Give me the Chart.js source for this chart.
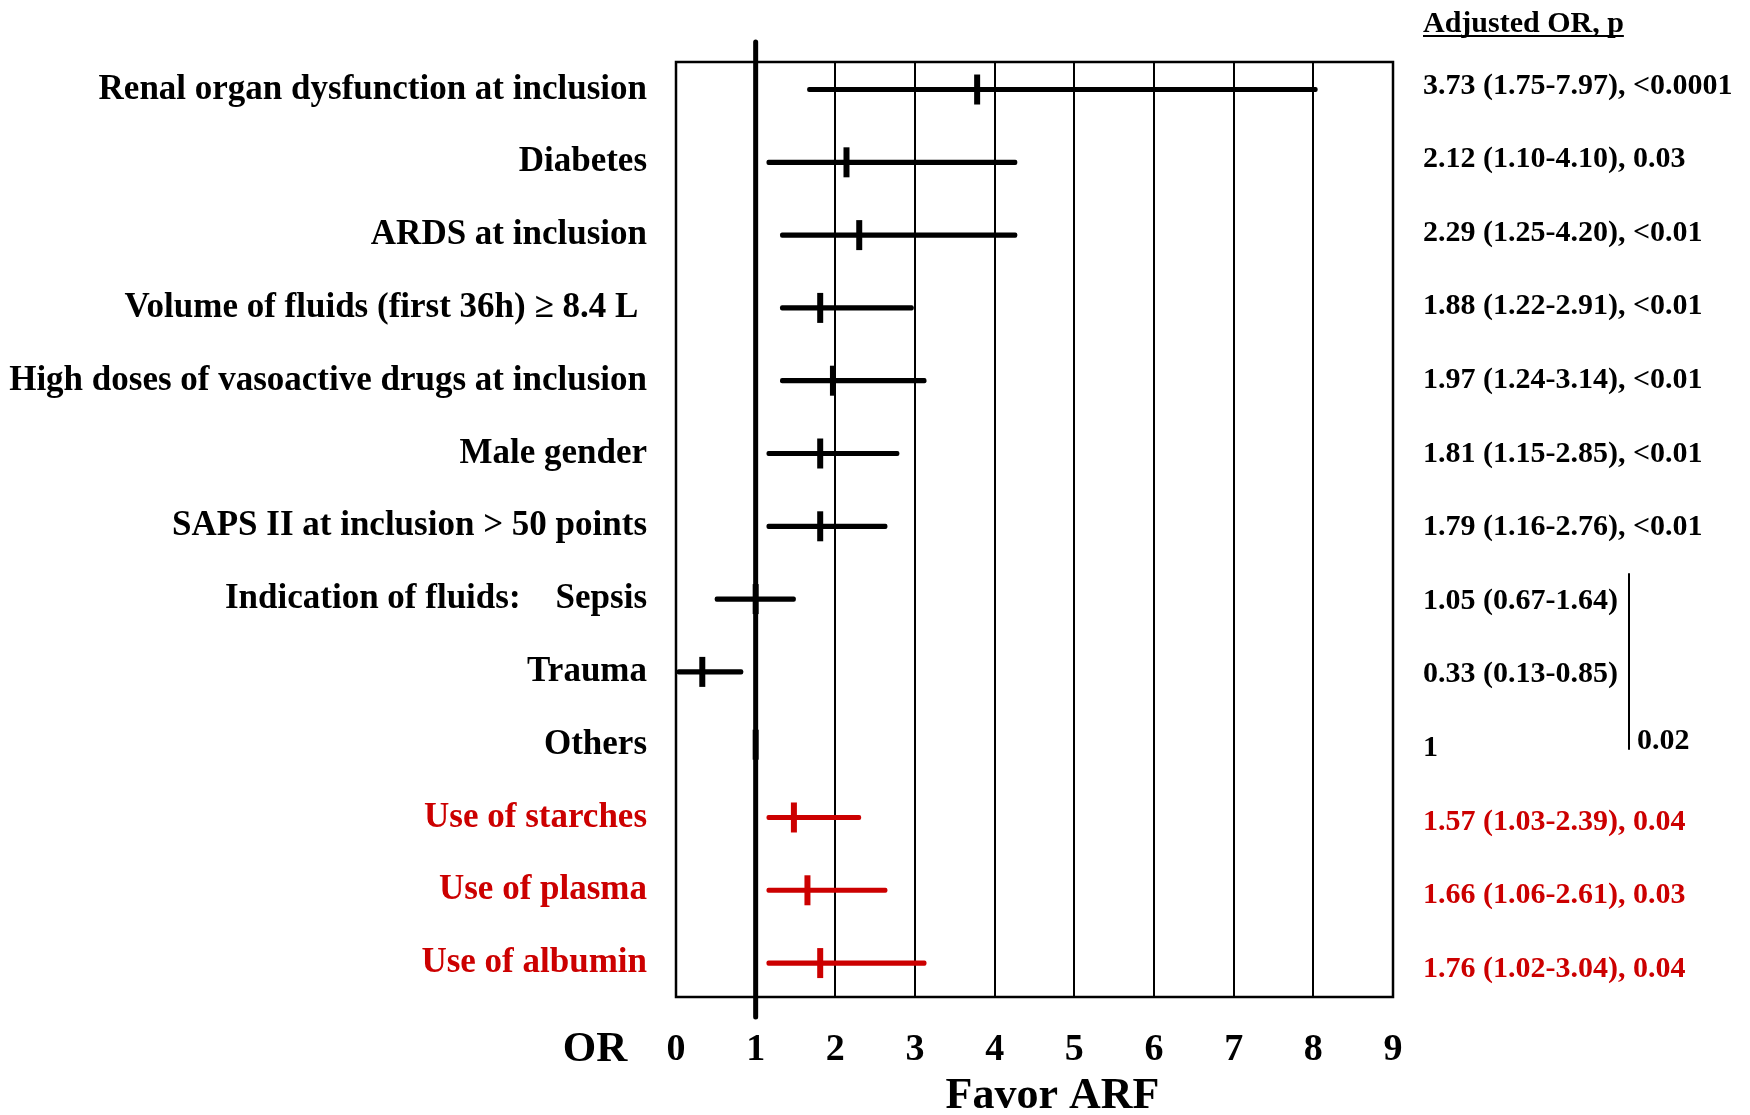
<!DOCTYPE html>
<html>
<head>
<meta charset="utf-8">
<script src="https://cdn.jsdelivr.net/npm/chart.js"></script>
<style>
    html, body { margin: 0; padding: 0; background: #fff; }
    #wrap { width: 1750px; height: 1115px; }
</style>
</head>
<body>
<div id="wrap"><canvas id="forest" width="1750" height="1115"></canvas></div>
<script>
// ===== DATA =====
const rowLabels = [
    'Renal organ dysfunction at inclusion',
    'Diabetes',
    'ARDS at inclusion',
    'Volume of fluids (first 36h) \u2265 8.4 L\u00a0',
    'High doses of vasoactive drugs at inclusion',
    'Male gender',
    'SAPS II at inclusion > 50 points',
    'Indication of fluids:\u00a0\u00a0\u00a0\u00a0Sepsis',
    'Trauma',
    'Others',
    'Use of starches',
    'Use of plasma',
    'Use of albumin'
];

// odds ratio and confidence bounds as drawn on the plot
const orValues = [3.78, 2.14, 2.30, 1.81, 1.97, 1.81, 1.81, 1.00, 0.33, 1.00, 1.48, 1.65, 1.81];
const ciLow    = [1.65, 1.14, 1.31, 1.31, 1.31, 1.14, 1.14, 0.49, 0.00, null, 1.14, 1.14, 1.14];
const ciHigh   = [8.05, 4.28, 4.28, 2.98, 3.14, 2.80, 2.65, 1.50, 0.84, null, 2.32, 2.65, 3.14];

const resultLabels = [
    '3.73 (1.75-7.97), <0.0001',
    '2.12 (1.10-4.10), 0.03',
    '2.29 (1.25-4.20), <0.01',
    '1.88 (1.22-2.91), <0.01',
    '1.97 (1.24-3.14), <0.01',
    '1.81 (1.15-2.85), <0.01',
    '1.79 (1.16-2.76), <0.01',
    '1.05 (0.67-1.64)',
    '0.33 (0.13-0.85)',
    '1',
    '1.57 (1.03-2.39), 0.04',
    '1.66 (1.06-2.61), 0.03',
    '1.76 (1.02-3.04), 0.04'
];

const xTicks = [0, 1, 2, 3, 4, 5, 6, 7, 8, 9];
const redRows = [10, 11, 12];
const refValue = 1;
const groupP = '0.02';

// ===== STYLE =====
const SERIF = "'Liberation Serif', 'Times New Roman', serif";
const BLACK = '#000000';
const RED = '#cc0000';

const rowColor = (i) => redRows.includes(i) ? RED : BLACK;

// ===== PLUGINS =====
const frameAndRefLine = {
    id: 'frameAndRefLine',
    beforeDatasetsDraw(chart) {
        const { ctx, chartArea, scales } = chart;
        ctx.save();
        ctx.strokeStyle = BLACK;
        ctx.lineWidth = 2.5;
        ctx.strokeRect(chartArea.left, chartArea.top, chartArea.width, chartArea.height);

        // reference line at OR = 1, runs past the frame
        const x1 = scales.x.getPixelForValue(refValue);
        ctx.lineWidth = 5;
        ctx.lineCap = 'round';
        ctx.beginPath();
        ctx.moveTo(x1, chartArea.top - 20);
        ctx.lineTo(x1, chartArea.bottom + 20);
        ctx.stroke();
        ctx.restore();
    }
};

const extraText = {
    id: 'extraText',
    afterDraw(chart) {
        const { ctx, chartArea, scales } = chart;
        const right = scales.y2;
        const textX = right.left + 30;
        ctx.save();
        ctx.fillStyle = BLACK;
        ctx.strokeStyle = BLACK;

        // column header, underlined
        ctx.font = `bold 30px ${SERIF}`;
        ctx.textAlign = 'left';
        ctx.textBaseline = 'alphabetic';
        const header = 'Adjusted OR, p';
        ctx.fillText(header, textX, chartArea.top - 30);
        const w = ctx.measureText(header).width;
        ctx.lineWidth = 2;
        ctx.beginPath();
        ctx.moveTo(textX, chartArea.top - 26);
        ctx.lineTo(textX + w, chartArea.top - 26);
        ctx.stroke();

        // bracket for the indication-of-fluids group
        const bx = right.left + 236;
        ctx.lineWidth = 2;
        ctx.beginPath();
        ctx.moveTo(bx, right.getPixelForValue(6.62));
        ctx.lineTo(bx, right.getPixelForValue(9.02));
        ctx.stroke();
        ctx.textBaseline = 'middle';
        ctx.fillText(groupP, bx + 8, right.getPixelForValue(8.9));

        // "OR" in front of the x tick labels
        ctx.font = `bold 43px ${SERIF}`;
        ctx.textAlign = 'center';
        ctx.fillText('OR', chartArea.left - 81, chartArea.bottom + 53);

        // axis caption, a little right of centre as in the original
        ctx.font = `bold 44px ${SERIF}`;
        ctx.fillText('Favor ARF', (chartArea.left + chartArea.right) / 2 + 18, chartArea.bottom + 100);
        ctx.restore();
    }
};

// ===== CHART =====
const ciData = [];
rowLabels.forEach((_, i) => {
    if (ciLow[i] !== null) ciData.push({ y: i, x: [ciLow[i], ciHigh[i]] });
});
const ciColors = ciData.map(d => rowColor(d.y));

const pointData = orValues.map((v, i) => ({ x: v, y: i }));
const pointColors = orValues.map((_, i) => rowColor(i));

new Chart(document.getElementById('forest'), {
    type: 'bar',
    data: {
        datasets: [
            {
                type: 'bar',
                label: 'CI',
                data: ciData,
                backgroundColor: ciColors,
                borderWidth: 0,
                borderRadius: 2,
                borderSkipped: false,
                barThickness: 4.5
            },
            {
                type: 'line',
                label: 'OR',
                data: pointData,
                showLine: false,
                pointStyle: 'line',
                pointRotation: 90,
                pointRadius: 15,
                pointBorderWidth: 6,
                pointBorderColor: pointColors,
                pointBackgroundColor: pointColors
            }
        ]
    },
    options: {
        indexAxis: 'y',
        responsive: false,
        animation: false,
        layout: { padding: { top: 62, left: 0, right: 0, bottom: 0 } },
        plugins: {
            legend: { display: false },
            tooltip: { enabled: false }
        },
        scales: {
            x: {
                type: 'linear',
                position: 'bottom',
                min: 0,
                max: 9,
                offset: false,
                afterBuildTicks: (scale) => { scale.ticks = xTicks.map(v => ({ value: v })); },
                afterFit: (scale) => { scale.height = 118; },
                grid: {
                    offset: false,
                    drawTicks: false,
                    lineWidth: 2,
                    color: (ctx) => ctx.tick && ctx.tick.value === refValue ? 'rgba(0,0,0,0)' : BLACK
                },
                border: { display: false },
                ticks: {
                    autoSkip: false,
                    padding: 30,
                    color: BLACK,
                    font: { family: SERIF, size: 38, weight: 'bold' }
                },
                title: { display: false }
            },
            y: {
                type: 'linear',
                position: 'left',
                reverse: true,
                offset: false,
                min: -0.378,
                max: 12.466,
                afterBuildTicks: (scale) => { scale.ticks = rowLabels.map((_, i) => ({ value: i })); },
                afterFit: (scale) => { scale.width = 676; },
                grid: { display: false, drawTicks: false, offset: false },
                border: { display: false },
                ticks: {
                    autoSkip: false,
                    padding: 29,
                    callback: (v) => rowLabels[v],
                    color: (ctx) => rowColor(ctx.tick.value),
                    font: { family: SERIF, size: 35, weight: 'bold' }
                }
            },
            y2: {
                type: 'linear',
                position: 'right',
                reverse: true,
                offset: false,
                min: -0.325,
                max: 12.379,
                afterBuildTicks: (scale) => { scale.ticks = resultLabels.map((_, i) => ({ value: i })); },
                afterFit: (scale) => { scale.width = 357; },
                grid: { display: false, drawTicks: false, offset: false },
                border: { display: false },
                ticks: {
                    autoSkip: false,
                    padding: 30,
                    callback: (v) => resultLabels[v],
                    color: (ctx) => rowColor(ctx.tick.value),
                    font: { family: SERIF, size: 30, weight: 'bold' }
                }
            }
        }
    },
    plugins: [frameAndRefLine, extraText]
});
</script>
</body>
</html>
